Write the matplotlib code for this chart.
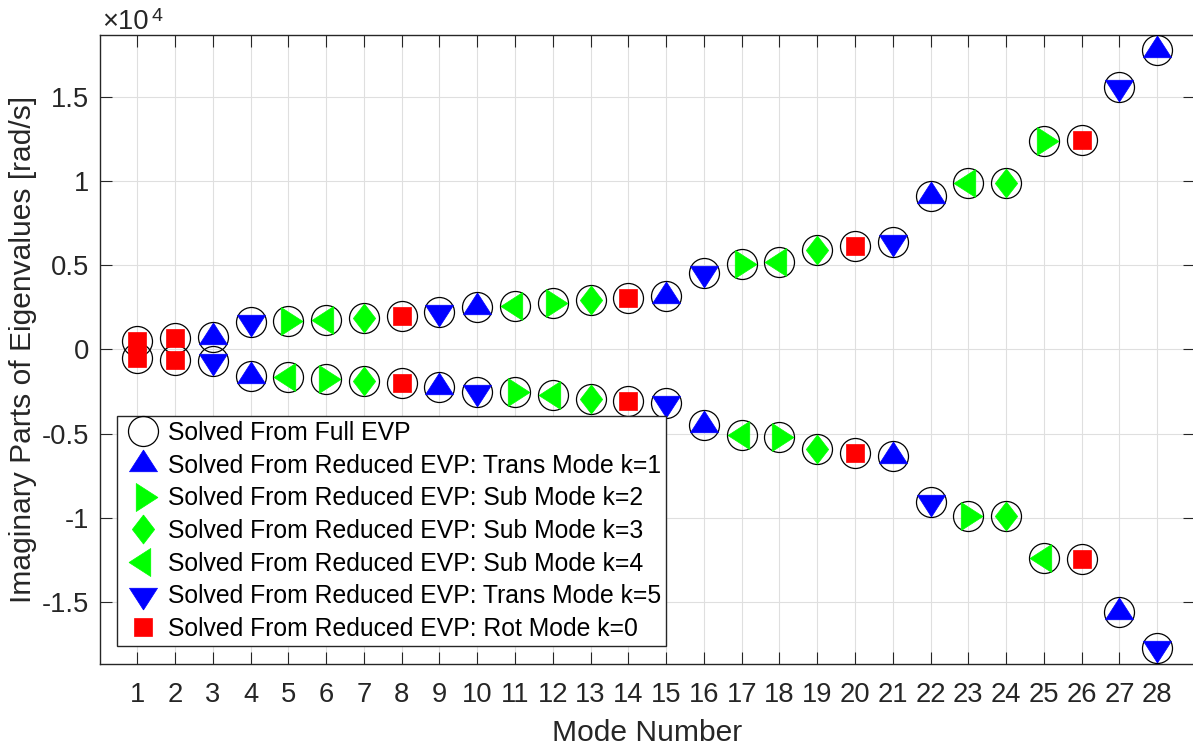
import numpy as np
import matplotlib
matplotlib.use("Agg")
import matplotlib.pyplot as plt
from matplotlib.path import Path
from matplotlib.ticker import FuncFormatter

plt.rcParams['font.family'] = ['Liberation Sans', 'DejaVu Sans']

# imaginary parts of the eigenvalues [rad/s]
modes = np.arange(1, 29)
im_pos = [520, 660, 720, 1600, 1660, 1770, 1860, 1990, 2220, 2520,
          2560, 2740, 2920, 3050, 3170, 4520, 5070, 5180, 5900, 6150,
          6350, 9080, 9890, 9890, 12380, 12450, 15570, 17760]
im_neg = [-520, -660, -720, -1600, -1660, -1770, -1860, -1990, -2220, -2520,
          -2560, -2740, -2920, -3050, -3170, -4520, -5070, -5180, -5900, -6150,
          -6350, -9080, -9890, -9890, -12380, -12450, -15570, -17760]

# mode number k found by the reduced EVP for each point
k_pos = [0, 0, 1, 5, 2, 4, 3, 0, 5, 1, 4, 2, 3, 0, 1, 5, 2, 4, 3, 0, 5, 1, 4, 3, 2, 0, 5, 1]
k_neg = [0, 0, 5, 1, 4, 2, 3, 0, 1, 5, 2, 4, 3, 0, 5, 1, 4, 2, 3, 0, 1, 5, 2, 3, 4, 0, 1, 5]

k_order = [1, 2, 3, 4, 5, 0]
k_labels = ['Solved From Reduced EVP: Trans Mode k=1',
            'Solved From Reduced EVP: Sub Mode k=2',
            'Solved From Reduced EVP: Sub Mode k=3',
            'Solved From Reduced EVP: Sub Mode k=4',
            'Solved From Reduced EVP: Trans Mode k=5',
            'Solved From Reduced EVP: Rot Mode k=0']

# matlab-ish marker shapes
tri_up = Path([(0, 1), (-0.966, -0.5), (0.966, -0.5), (0, 1)])
tri_dn = Path([(0, -1), (-0.966, 0.5), (0.966, 0.5), (0, -1)])
tri_rt = Path([(1, 0), (-0.5, 0.966), (-0.5, -0.966), (1, 0)])
tri_lt = Path([(-1, 0), (0.5, 0.966), (0.5, -0.966), (-1, 0)])
diam = Path([(0, 1), (0.77, 0), (0, -1), (-0.77, 0), (0, 1)])

styles = {1: (tri_up, 'b', 20.9),
          2: (tri_rt, (0, 1, 0), 20.9),
          3: (diam, (0, 1, 0), 20.9),
          4: (tri_lt, (0, 1, 0), 20.9),
          5: (tri_dn, 'b', 20.9),
          0: ('s', 'r', 12.6)}

fig = plt.figure(figsize=(11.93, 7.49), dpi=100)
ax = fig.add_axes([99.5/1193, 85.3/749, 1095.5/1193, 628.7/749])

x_all = np.concatenate([modes, modes])
y_all = np.concatenate([im_pos, im_neg])
k_all = np.concatenate([k_pos, k_neg])

ax.plot(x_all, y_all, linestyle='none', marker='o', markersize=21.6,
        markerfacecolor='none', markeredgecolor='k', markeredgewidth=0.9,
        label='Solved From Full EVP', zorder=3)

for k, lab in zip(k_order, k_labels):
    m, c, ms = styles[k]
    sel = k_all == k
    ax.plot(x_all[sel], y_all[sel], linestyle='none', marker=m, markersize=ms,
            color=c, markeredgewidth=0.5, label=lab, zorder=4)

ax.set_xlim(0, 29)
ax.set_ylim(-18665, 18665)
ax.set_xticks(modes)
ax.set_yticks(np.arange(-15000, 15001, 5000))
ax.yaxis.set_major_formatter(FuncFormatter(lambda v, p: '%g' % (v / 1e4)))

ax.grid(True, color='#dfdfdf', linewidth=0.8)
ax.set_axisbelow(True)
for s in ax.spines.values():
    s.set_color('#262626')
    s.set_linewidth(1.0)
ax.tick_params(direction='in', length=8.5, width=0.8, color='#262626',
               labelcolor='#262626', labelsize=19.7, top=True, right=True)
ax.tick_params(axis='x', pad=13)
ax.tick_params(axis='y', pad=7.5)

ax.set_xlabel('Mode Number', fontsize=21.6, color='#262626', labelpad=8)
ax.set_ylabel('Imaginary Parts of Eigenvalues [rad/s]', fontsize=21.6,
              color='#262626', labelpad=3.5)

# exponent label like matlab's
fig.text(102/1193, 1 - 29/749, '\u00d710', fontsize=19.7, color='#262626',
         ha='left', va='baseline')
fig.text(152/1193, 1 - 21/749, '4', fontsize=14, color='#262626',
         ha='left', va='baseline')

leg = ax.legend(loc='lower left', bbox_to_anchor=(0.01625, 0.0282),
                borderaxespad=0, fontsize=17.8, fancybox=False, framealpha=1,
                edgecolor='#262626', handlelength=1.70, handletextpad=0.15,
                borderpad=0.2, labelspacing=0.35, numpoints=1)
leg.get_frame().set_linewidth(1.0)
leg.set_zorder(10)

plt.savefig('out.png', dpi=100)
